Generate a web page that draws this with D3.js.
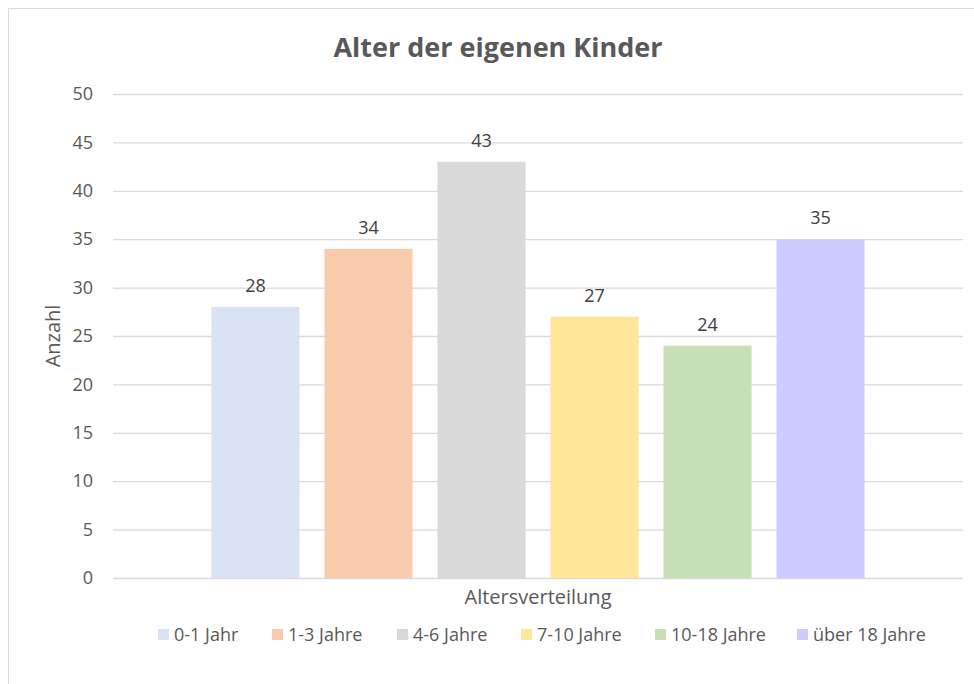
<!DOCTYPE html>
<html>
<head>
<meta charset="utf-8">
<script src="https://cdn.jsdelivr.net/npm/d3@7"></script>
<style>
  body { margin: 0; background: #fff; }
  svg text { font-family: "Open Sans", "Noto Sans", sans-serif; }
</style>
</head>
<body>
<div id="chart"></div>
<script>
// data
const categories = ["0-1 Jahr", "1-3 Jahre", "4-6 Jahre", "7-10 Jahre", "10-18 Jahre", "über 18 Jahre"]
const counts = [28, 34, 43, 27, 24, 35]
const colors = ["#DAE3F3", "#F8CBAD", "#D9D9D9", "#FFE699", "#C5E0B4", "#CCCCFF"]
const yTicks = [0, 5, 10, 15, 20, 25, 30, 35, 40, 45, 50]

var width = 974,
    height = 684

var svg = d3.select("#chart")
  .append("svg")
    .attr("width", width)
    .attr("height", height)

// chart frame (Excel style, cut off at right/bottom)
svg.append("rect")
  .attr("x", 8.5).attr("y", 8.5)
  .attr("width", 1000).attr("height", 700)
  .attr("fill", "#fff")
  .attr("stroke", "#D9D9D9")

var plot = { left: 113, right: 963, top: 94, bottom: 578 }

var x = d3.scaleBand()
  .domain(categories)
  .range([plot.left, plot.right])
  .paddingInner(0.221)
  .paddingOuter(0.871)

var y = d3.scaleLinear()
  .domain([0, 50])
  .range([plot.bottom, plot.top])

// gridlines
svg.append("g")
  .selectAll("line")
  .data(yTicks)
  .enter()
  .append("line")
    .attr("x1", plot.left).attr("x2", plot.right)
    .attr("y1", d => y(d) + 0.5).attr("y2", d => y(d) + 0.5)
    .attr("stroke", "#D9D9D9")
    .attr("stroke-width", 1.3)

// y axis labels
var yAxis = svg.append("g")
  .attr("transform", "translate(" + (plot.left - 8) + ",0)")
  .call(d3.axisLeft(y).tickValues(yTicks).tickSize(0).tickPadding(12))
yAxis.select(".domain").remove()
yAxis.selectAll("text")
  .attr("fill", "#595959")
  .style("font-size", "18px")

// bars
svg.append("g")
  .selectAll("rect")
  .data(counts)
  .enter()
  .append("rect")
    .attr("x", (d, i) => x(categories[i]))
    .attr("y", d => y(d))
    .attr("width", x.bandwidth())
    .attr("height", d => y(0) - y(d))
    .attr("fill", (d, i) => colors[i])

// value labels
svg.append("g")
  .selectAll("text")
  .data(counts)
  .enter()
  .append("text")
    .text(d => d)
    .attr("x", (d, i) => x(categories[i]) + x.bandwidth() / 2)
    .attr("y", d => y(d) - 15)
    .attr("text-anchor", "middle")
    .attr("fill", "#404040")
    .style("font-size", "18px")

// title
svg.append("text")
  .text("Alter der eigenen Kinder")
  .attr("x", 498).attr("y", 57)
  .attr("text-anchor", "middle")
  .attr("fill", "#595959")
  .style("font-size", "27px")
  .style("font-weight", "bold")

// axis titles
svg.append("text")
  .text("Altersverteilung")
  .attr("x", 538).attr("y", 604)
  .attr("text-anchor", "middle")
  .attr("fill", "#595959")
  .style("font-size", "20px")

svg.append("text")
  .text("Anzahl")
  .attr("transform", "translate(60,336) rotate(-90)")
  .attr("text-anchor", "middle")
  .attr("fill", "#595959")
  .style("font-size", "20px")

// legend
var legendX = [158, 272, 397, 521, 655, 797]
var legend = svg.append("g")
  .selectAll("g")
  .data(categories)
  .enter()
  .append("g")
    .attr("transform", (d, i) => "translate(" + legendX[i] + ",629)")
legend.append("rect")
  .attr("width", 11).attr("height", 11)
  .attr("fill", (d, i) => colors[i])
legend.append("text")
  .text(d => d)
  .attr("x", 16).attr("y", 11.5)
  .attr("fill", "#595959")
  .style("font-size", "18px")
</script>
</body>
</html>
